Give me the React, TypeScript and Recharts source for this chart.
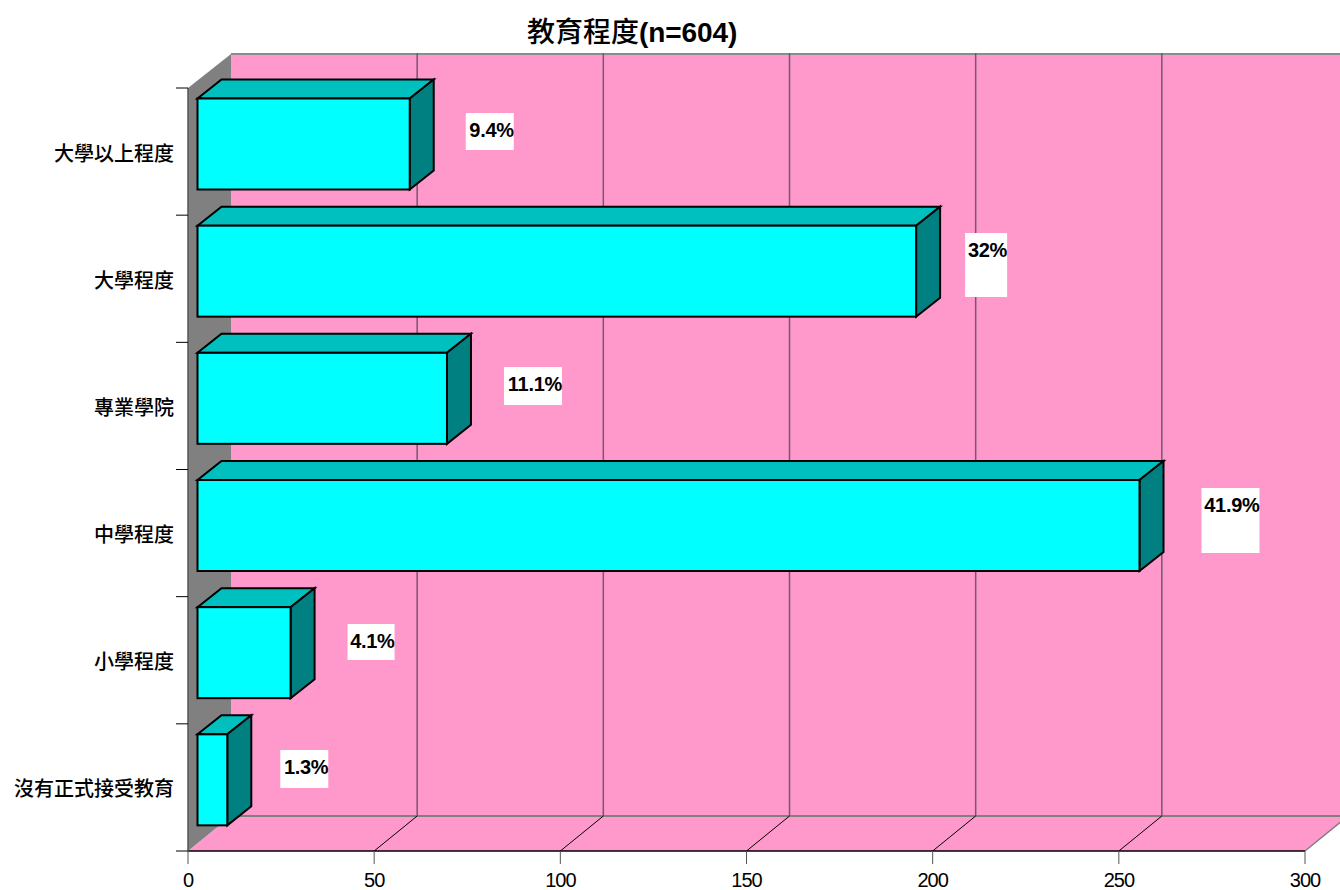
import { Bar, BarChart, CartesianGrid, LabelList, ReferenceArea, XAxis, YAxis } from 'recharts';

const categories = ['大學以上程度', '大學程度', '專業學院', '中學程度', '小學程度', '沒有正式接受教育'];
const counts = [57, 193, 67, 253, 25, 8];
const percents = ['9.4%', '32%', '11.1%', '41.9%', '4.1%', '1.3%'];
const xTicks = [0, 50, 100, 150, 200, 250, 300];

const rows = categories.map((name, i) => ({ name, count: counts[i], percent: percents[i] }));

const WIDTH = 1340;
const HEIGHT = 890;
const PLOT_TOP = 88;
const PLOT_LEFT = 188;
const PLOT_RIGHT = 1305;
const PLOT_BOTTOM = 851;
const BAND = (PLOT_BOTTOM - PLOT_TOP) / categories.length;

// depth of the fake 3d box
const WALL_DX = 43;
const WALL_DY = 35;
const BAR_DX = 24;
const BAR_DY = 19;
const BAR_SHIFT_X = 9.5;
const BAR_SHIFT_Y = -7.5;

// white label boxes, relative to the end of each bar
const labelBoxes = [
  { dx: 56, top: 113, w: 48, h: 37 },
  { dx: 49, top: 233, w: 42, h: 64 },
  { dx: 57, top: 367, w: 58, h: 38 },
  { dx: 62, top: 488, w: 58, h: 65 },
  { dx: 57, top: 624, w: 47, h: 36 },
  { dx: 53, top: 750, w: 48, h: 38 },
];

const LATIN = '"Liberation Sans", Arial, sans-serif';
const CJK = '"Noto Sans CJK TC", sans-serif';

function Walls({ x, y, width, height }: any) {
  const left = x + WALL_DX;
  const right = x + width + WALL_DX;
  const top = y - WALL_DY + 1;
  const back = y + height - WALL_DY;
  const bottom = y + height;
  return (
    <g>
      <polygon points={`${left},${top} ${right},${top} ${right},${back} ${left},${back}`} fill="#ff99cc" />
      <polygon
        points={`${x},${bottom} ${left},${back} ${right},${back} ${x + width},${bottom}`}
        fill="#ff99cc"
      />
      <polygon points={`${x},${y} ${left},${top} ${left},${back} ${x},${bottom}`} fill="#808080" />
      <line x1={left} y1={top} x2={right} y2={top} stroke="#8c8c8c" strokeWidth={2} />
      <line x1={left} y1={back} x2={right} y2={back} stroke="#808080" strokeWidth={2} />
    </g>
  );
}

function GridLine({ x1, index }: any) {
  const key = `grid-${index}`;
  if (x1 <= PLOT_LEFT) return <g key={key} />;
  const last = x1 >= PLOT_RIGHT;
  return (
    <g key={key}>
      <line
        x1={x1 + WALL_DX}
        y1={PLOT_TOP - WALL_DY}
        x2={x1 + WALL_DX}
        y2={PLOT_BOTTOM - WALL_DY}
        stroke="#75586f"
        strokeWidth={1.5}
      />
      <line
        x1={x1}
        y1={PLOT_BOTTOM}
        x2={x1 + WALL_DX}
        y2={PLOT_BOTTOM - WALL_DY}
        stroke={last ? '#808080' : '#000000'}
        strokeWidth={last ? 1.5 : 1}
      />
    </g>
  );
}

function Box3D({ x, y, width, height }: any) {
  const l = x + BAR_SHIFT_X;
  const t = y + BAR_SHIFT_Y;
  const r = l + width;
  const b = t + height;
  return (
    <g stroke="#000000" strokeWidth={2} strokeLinejoin="miter">
      <polygon
        points={`${l},${t} ${l + BAR_DX},${t - BAR_DY} ${r + BAR_DX},${t - BAR_DY} ${r},${t}`}
        fill="#00bfbf"
      />
      <polygon
        points={`${r},${t} ${r + BAR_DX},${t - BAR_DY} ${r + BAR_DX},${b - BAR_DY} ${r},${b}`}
        fill="#008080"
      />
      <rect x={l} y={t} width={width} height={height} fill="#00ffff" />
    </g>
  );
}

function PercentLabel({ x, width, value, index }: any) {
  const box = labelBoxes[index];
  const left = x + width + BAR_SHIFT_X + box.dx;
  return (
    <g>
      <rect x={left} y={box.top} width={box.w} height={box.h} fill="#ffffff" />
      <text
        x={left + box.w}
        y={box.top + 24}
        textAnchor="end"
        fontFamily={LATIN}
        fontWeight={700}
        fontSize={20}
        letterSpacing={-0.3}
        fill="#000000"
      >
        {value}
      </text>
    </g>
  );
}

function CategoryTick({ x, y, payload, index }: any) {
  const tickY = y - BAND / 2;
  return (
    <g>
      <line x1={PLOT_LEFT - 12} y1={tickY} x2={PLOT_LEFT} y2={tickY} stroke="#000000" />
      {index === categories.length - 1 && (
        <line x1={PLOT_LEFT - 12} y1={y + BAND / 2} x2={PLOT_LEFT} y2={y + BAND / 2} stroke="#000000" />
      )}
      <text
        x={x}
        y={y + 9}
        textAnchor="end"
        fontFamily={CJK}
        fontWeight={500}
        fontSize={20}
        fill="#000000"
      >
        {payload.value}
      </text>
    </g>
  );
}

export default function App() {
  return (
    <div style={{ position: 'absolute', left: 0, top: 0, width: WIDTH, height: HEIGHT, overflow: 'hidden' }}>
      <div
        style={{
          position: 'absolute',
          left: 527,
          top: 10,
          fontSize: 28,
          fontWeight: 700,
          lineHeight: '40px',
          whiteSpace: 'nowrap',
          color: '#000000',
          zIndex: 2,
        }}
      >
        <span style={{ fontFamily: CJK, fontWeight: 500 }}>教育程度</span>
        <span style={{ fontFamily: LATIN, letterSpacing: -0.1 }}>(n=604)</span>
      </div>
      <BarChart
        width={WIDTH}
        height={HEIGHT}
        data={rows}
        layout="vertical"
        margin={{ top: PLOT_TOP, right: WIDTH - PLOT_RIGHT, bottom: 0, left: 0 }}
      >
        <ReferenceArea x1={0} x2={300} ifOverflow="visible" shape={<Walls />} zIndex={-200} />
        <CartesianGrid horizontal={false} vertical={GridLine} stroke="#75586f" />
        <XAxis
          type="number"
          dataKey="count"
          domain={[0, 300]}
          ticks={xTicks}
          interval={0}
          height={HEIGHT - PLOT_BOTTOM}
          tickSize={13}
          tickMargin={9}
          axisLine={{ stroke: '#000000', strokeWidth: 1.5 }}
          tickLine={{ stroke: '#555555', strokeWidth: 1 }}
          tick={{ fill: '#000000', fontSize: 20, fontFamily: LATIN, letterSpacing: -1 }}
        />
        <YAxis
          type="category"
          dataKey="name"
          width={PLOT_LEFT}
          interval={0}
          tickSize={12}
          tickMargin={2}
          tickLine={false}
          axisLine={{ stroke: '#555555', strokeWidth: 1.5 }}
          tick={<CategoryTick />}
        />
        <Bar dataKey="count" barSize={91} shape={<Box3D />} isAnimationActive={false}>
          <LabelList dataKey="percent" content={<PercentLabel />} />
        </Bar>
      </BarChart>
    </div>
  );
}
